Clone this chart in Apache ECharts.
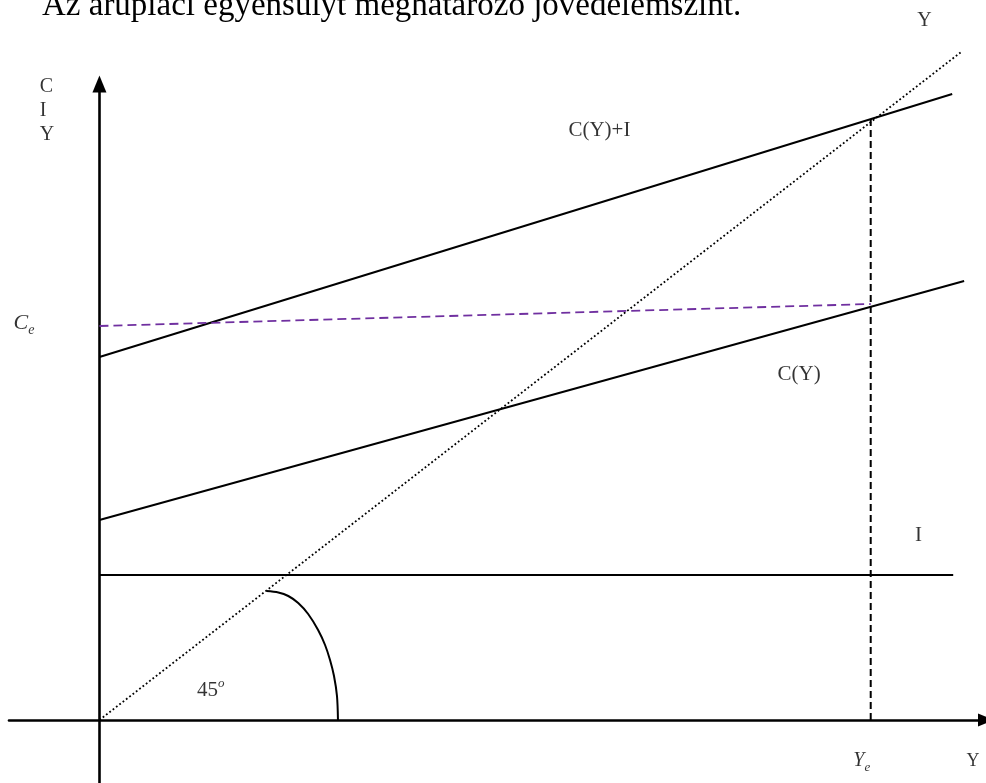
<!DOCTYPE html>
<html>
<head>
<meta charset="utf-8">
<script src="https://cdn.jsdelivr.net/npm/echarts@6/dist/echarts.min.js"></script>
<style>html,body{margin:0;padding:0;background:#fff}#c{width:986px;height:783px}</style>
</head>
<body>
<div id="c"></div>
<script>
// Values (income Y on x, spending on y)
const lineY45 = [[0, 0], [867, 668]];            // Y = C + I (45° line)
const lineCI = [[0, 363], [858, 626]];           // C(Y)+I
const lineC = [[0, 200], [870, 439]];            // C(Y)
const lineI = [[0, 145], [859, 145]];            // I
const lineYe = [[776, 0], [776, 602]];           // equilibrium income Ye
const lineCe = [[0, 394], [776, 416]];           // Ce
const arc45 = [[168, 129], [180, 127.5], [190, 124], [200, 117], [210, 106], [220, 90], [227, 75], [232, 60], [236, 44], [239, 24], [240, 0]];
const titleText = 'Az árupiaci egyensúlyt meghatározó jövedelemszint.';
const labelItems = [
  { name: 'CIY', value: [-60, 609] },
  { name: 'Y45', value: [830, 699] },
  { name: 'CI', value: [503, 590] },
  { name: 'C', value: [704, 346] },
  { name: 'I', value: [824, 185] },
  { name: 'Ce', value: [-76, 397] },
  { name: 'A', value: [112, 30] },
  { name: 'Ye', value: [767, -41] },
  { name: 'Yax', value: [879, -41] }
];

const serif = '"Liberation Serif", "Times New Roman", serif';
const black = '#000';

const chart = echarts.init(document.getElementById('c'), null, { renderer: 'canvas' });

function lineSeries(data, style, z) {
  return {
    type: 'line', data: data, symbol: 'none', clip: false, silent: true, z: z || 2,
    lineStyle: Object.assign({ color: black, width: 2 }, style), animation: false
  };
}

const labelFormat = {
  CIY: { text: 'C\nI\nY', align: 'left', lineHeight: 24, fontSize: 20 },
  Y45: { text: 'Y', fontSize: 20 },
  CI: { text: 'C(Y)+I', fontSize: 21 },
  C: { text: 'C(Y)', fontSize: 21 },
  I: { text: 'I', fontSize: 21 },
  Ce: { text: '{m|C}{s|e}' },
  A: { text: '{n|45}{p|o}' },
  Ye: { text: '{m2|Y}{s2|e}' },
  Yax: { text: 'Y', fontSize: 18 }
};

const option = {
  animation: false,
  backgroundColor: '#fff',
  title: {
    text: titleText, left: 42, top: -10, padding: 0,
    textStyle: { fontFamily: serif, fontSize: 33, fontWeight: 'normal', color: black }
  },
  grid: { left: 9, right: -6, top: 84, bottom: 0, containLabel: false },
  xAxis: {
    type: 'value', min: -91, max: 892,
    axisLine: { onZero: true, symbol: ['none', 'triangle'], symbolSize: [13, 16], lineStyle: { color: black, width: 2.6 } },
    axisTick: { show: false }, axisLabel: { show: false }, splitLine: { show: false }
  },
  yAxis: {
    type: 'value', min: -63, max: 636,
    axisLine: { onZero: true, symbol: ['none', 'triangle'], symbolSize: [14, 17], lineStyle: { color: black, width: 2.6 } },
    axisTick: { show: false }, axisLabel: { show: false }, splitLine: { show: false }
  },
  series: [
    lineSeries(lineY45, { width: 1.8, type: [1.8, 2.4] }),
    lineSeries(lineCI, { width: 2 }),
    lineSeries(lineC, { width: 2 }),
    lineSeries(lineI, { width: 2 }),
    lineSeries(lineYe, { width: 2, type: [7, 4] }),
    lineSeries(lineCe, { width: 1.8, type: [9, 5], color: '#7030a0' }),
    Object.assign(lineSeries(arc45, { width: 2 }), { smooth: 0.3 }),
    {
      type: 'scatter', symbolSize: 0, clip: false, silent: true, z: 5,
      data: labelItems.map(function (d) {
        const f = labelFormat[d.name];
        return {
          value: d.value,
          label: {
            show: true, position: 'inside', formatter: f.text,
            fontFamily: serif, fontSize: f.fontSize || 20, color: black,
            align: f.align || 'center', lineHeight: f.lineHeight,
            rich: {
              m: { fontFamily: serif, fontStyle: 'italic', fontSize: 22, lineHeight: 28, verticalAlign: 'middle', color: black },
              s: { fontFamily: serif, fontStyle: 'italic', fontSize: 14, lineHeight: 14, verticalAlign: 'bottom', color: black },
              m2: { fontFamily: serif, fontStyle: 'italic', fontSize: 20, lineHeight: 26, verticalAlign: 'middle', color: black },
              s2: { fontFamily: serif, fontStyle: 'italic', fontSize: 13, lineHeight: 13, verticalAlign: 'bottom', color: black },
              n: { fontFamily: serif, fontSize: 21, lineHeight: 26, verticalAlign: 'middle', color: black },
              p: { fontFamily: serif, fontStyle: 'italic', fontSize: 13, lineHeight: 13, verticalAlign: 'top', color: black }
            }
          }
        };
      })
    }
  ]
};
chart.setOption(option);
</script>
</body>
</html>
